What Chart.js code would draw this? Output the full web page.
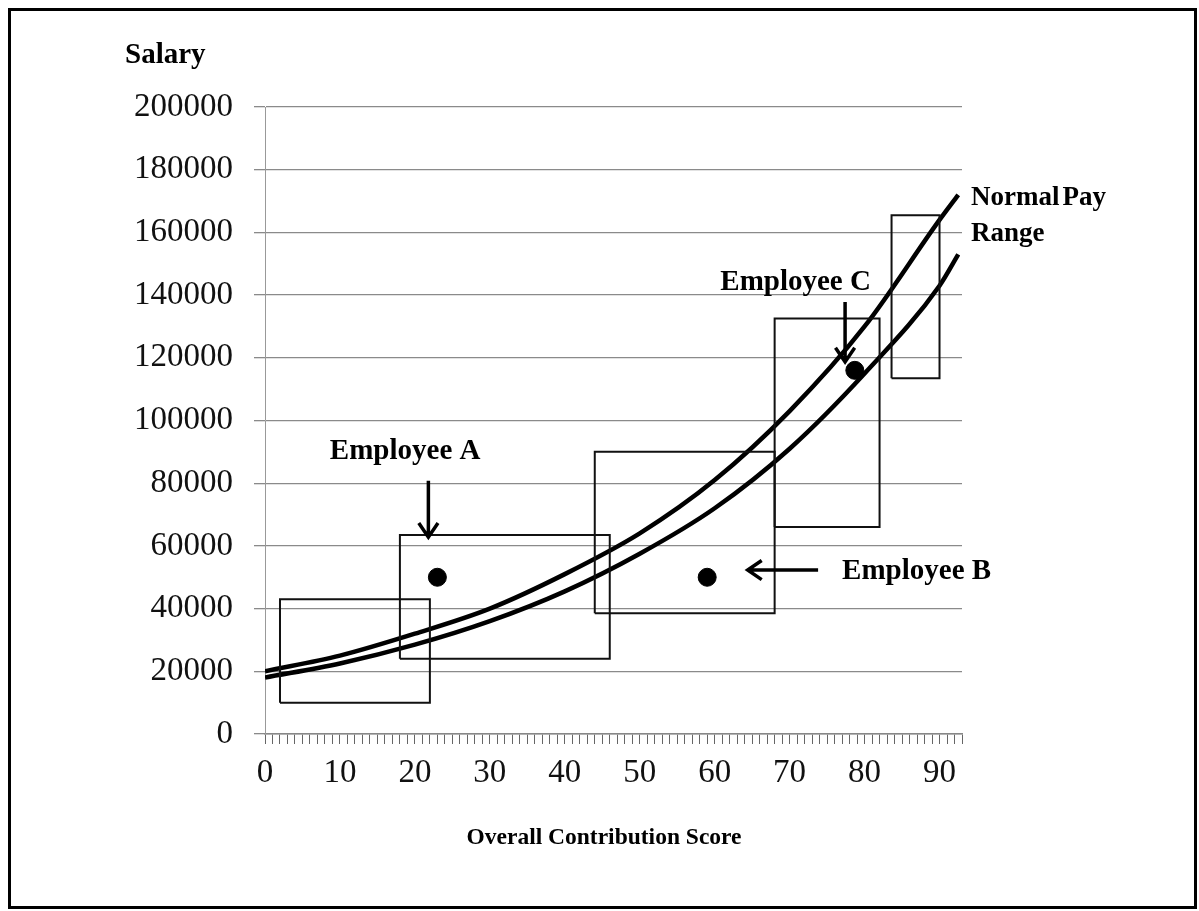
<!DOCTYPE html>
<html>
<head>
<meta charset="utf-8">
<script src="https://cdn.jsdelivr.net/npm/chart.js@4.4.1/dist/chart.umd.min.js"></script>
<style>
  html, body { margin: 0; padding: 0; background: #fff; }
  #wrap { position: relative; width: 1199px; height: 911px; }
</style>
</head>
<body>
<div id="wrap"><canvas id="payChart"></canvas></div>
<script>
"use strict";
// tick labels
var scoreTicks = [0, 10, 20, 30, 40, 50, 60, 70, 80, 90];
var salaryTicks = [0, 20000, 40000, 60000, 80000, 100000, 120000, 140000, 160000, 180000, 200000];

// normal pay range curves
var curveScore = [0, 10, 20, 30, 40, 50, 60, 70, 80, 90, 92.5];
var upperPay = [20000, 25000, 32000, 40000, 51000, 64000, 81000, 103000, 130000, 164000, 172000];
var lowerPay = [18000, 22500, 28500, 36000, 45500, 57500, 72000, 91000, 115000, 143000, 153000];

// pay grade boxes
var boxScoreFrom = [2, 18, 44, 68, 83.6];
var boxScoreTo = [22, 46, 68, 82, 90];
var boxPayLow = [10000, 24000, 38500, 66000, 113500];
var boxPayHigh = [43000, 63500, 90000, 132500, 165500];

// employees
var empNames = ["Employee A", "Employee B", "Employee C"];
var empScore = [23, 59, 78.7];
var empSalary = [50000, 50000, 116000];

(function () {
    var serif = "'Liberation Serif', 'Times New Roman', serif";

    function pts(xs, ys) {
        return xs.map(function (x, i) { return { x: x, y: ys[i] }; });
    }

    var datasets = [];
    boxScoreFrom.forEach(function (x1, i) {
        var x2 = boxScoreTo[i], lo = boxPayLow[i], hi = boxPayHigh[i];
        datasets.push({
            type: "line",
            data: [{ x: x1, y: lo }, { x: x1, y: hi }, { x: x2, y: hi }, { x: x2, y: lo }, { x: x1, y: lo }],
            borderColor: "#111",
            borderWidth: 2,
            pointRadius: 0,
            tension: 0,
            fill: false
        });
    });
    [upperPay, lowerPay].forEach(function (ys) {
        datasets.push({
            type: "line",
            data: pts(curveScore, ys),
            borderColor: "#000",
            borderWidth: 4.5,
            pointRadius: 0,
            cubicInterpolationMode: "monotone",
            fill: false
        });
    });
    datasets.push({
        type: "scatter",
        data: pts(empScore, empSalary),
        backgroundColor: "#000",
        borderColor: "#000",
        pointRadius: 9
    });

    function arrow(ctx, x1, y1, x2, y2) {
        var a = Math.atan2(y2 - y1, x2 - x1), h = 17, w = 0.6;
        ctx.beginPath();
        ctx.moveTo(x1, y1);
        ctx.lineTo(x2, y2);
        ctx.moveTo(x2 - h * Math.cos(a - w), y2 - h * Math.sin(a - w));
        ctx.lineTo(x2, y2);
        ctx.lineTo(x2 - h * Math.cos(a + w), y2 - h * Math.sin(a + w));
        ctx.stroke();
    }

    var notes = {
        id: "notes",
        afterDraw: function (chart) {
            var ctx = chart.ctx, sx = chart.scales.x, sy = chart.scales.y;
            var X = function (v) { return sx.getPixelForValue(v); };
            var Y = function (v) { return sy.getPixelForValue(v); };
            ctx.save();
            ctx.strokeStyle = "#000";
            ctx.lineWidth = 3;
            ctx.strokeRect(9.5, 9.5, 1186, 898);

            ctx.fillStyle = "#000";
            ctx.font = "bold 29px " + serif;
            ctx.textBaseline = "middle";
            ctx.textAlign = "left";
            ctx.fillText("Salary", 125, 56);
            ctx.textAlign = "center";
            ctx.font = "bold 23.5px " + serif;
            ctx.fillText("Overall Contribution Score", 604, 838);

            ctx.font = "bold 29px " + serif;
            ctx.fillText(empNames[0], X(18.7), Y(90000));
            ctx.fillText(empNames[2], X(70.8), Y(144000));
            ctx.textAlign = "left";
            ctx.fillText(empNames[1], X(77), Y(51800));
            ctx.font = "bold 27px " + serif;
            ctx.fillText("Normal", X(94.2), Y(171000));
            ctx.fillText("Pay", X(94.2) + ctx.measureText("Normal").width + 3, Y(171000));
            ctx.fillText("Range", X(94.2), Y(159500));

            ctx.lineWidth = 3.5;
            arrow(ctx, X(21.8), Y(80800), X(21.8), Y(62800));
            arrow(ctx, X(73.8), Y(52300), X(64.4), Y(52300));
            arrow(ctx, X(77.4), Y(137800), X(77.4), Y(118700));
            ctx.restore();
        }
    };

    var ctx = document.getElementById("payChart").getContext("2d");
    new Chart(ctx, {
        data: { datasets: datasets },
        options: {
            responsive: true,
            maintainAspectRatio: false,
            animation: false,
            layout: { padding: { left: 0, top: 107, right: 237, bottom: 0 } },
            plugins: { legend: { display: false }, tooltip: { enabled: false } },
            scales: {
                x: {
                    type: "linear",
                    min: 0,
                    max: 93,
                    afterFit: function (s) { s.height = 177; },
                    afterBuildTicks: function (s) {
                        var t = [];
                        for (var v = 0; v <= 93; v++) t.push({ value: v });
                        s.ticks = t;
                    },
                    ticks: {
                        autoSkip: false,
                        maxRotation: 0,
                        padding: 10,
                        color: "#111",
                        font: { family: serif, size: 33 },
                        callback: function (v) { return scoreTicks.indexOf(v) >= 0 ? String(v) : ""; }
                    },
                    grid: { drawOnChartArea: false, tickLength: 10, color: "#666", lineWidth: 1 },
                    border: { color: "#888", width: 1.5 }
                },
                y: {
                    min: 0,
                    max: 200000,
                    afterFit: function (s) { s.width = 265; },
                    afterBuildTicks: function (s) {
                        s.ticks = salaryTicks.map(function (v) { return { value: v }; });
                    },
                    ticks: {
                        padding: 21,
                        color: "#111",
                        font: { family: serif, size: 33 },
                        callback: function (v) { return String(v); }
                    },
                    grid: { color: "#8a8a8a", lineWidth: 1.3, tickLength: 11 },
                    border: { color: "#999", width: 1 }
                }
            }
        },
        plugins: [notes]
    });
})();
</script>
</body>
</html>
